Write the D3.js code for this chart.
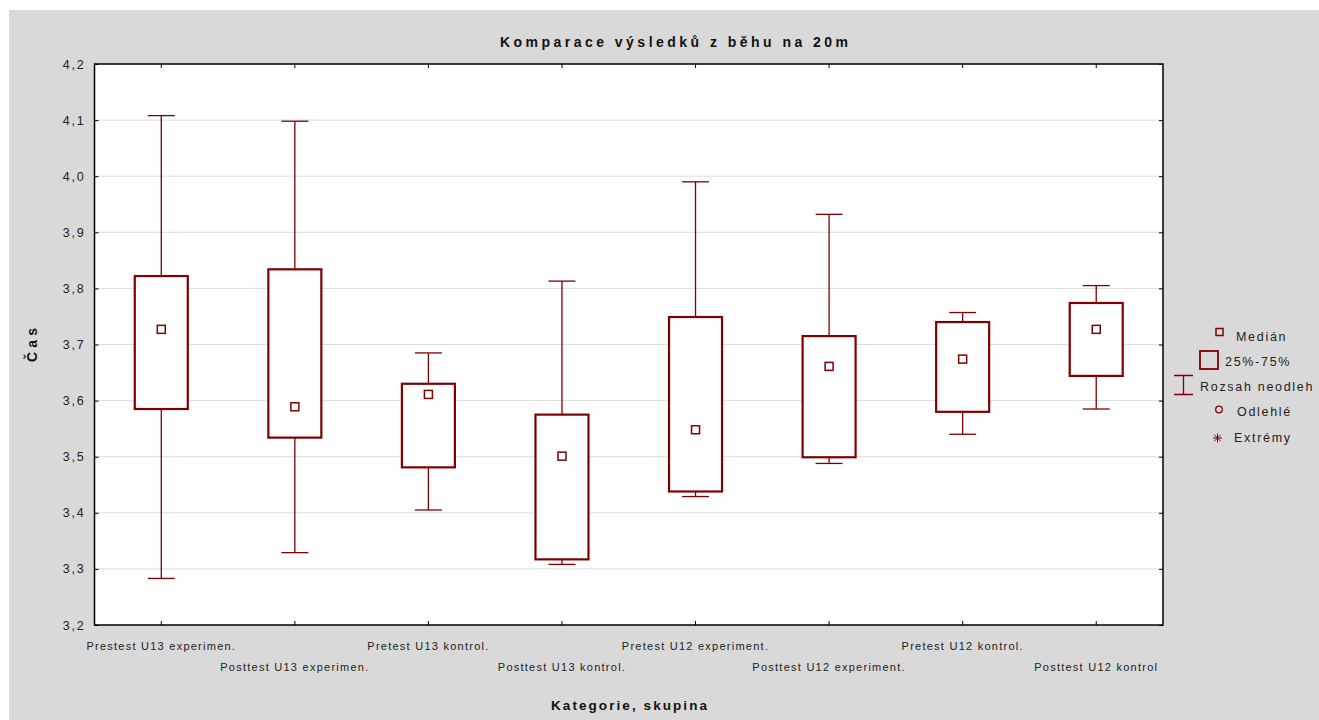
<!DOCTYPE html>
<html>
<head>
<meta charset="utf-8">
<script src="https://cdn.jsdelivr.net/npm/d3@7"></script>
<style>
  html, body { margin: 0; padding: 0; background: #ffffff; }
  svg { display: block; font-family: "Liberation Sans", Arial, sans-serif; }
</style>
</head>
<body>
<svg id="chart" width="1319" height="720"></svg>
<script>
// Box plot data: 20 m sprint times per group
const categories = [
  "Prestest U13 experimen.",
  "Posttest U13 experimen.",
  "Pretest U13 kontrol.",
  "Posttest U13 kontrol.",
  "Pretest U12 experiment.",
  "Posttest U12 experiment.",
  "Pretest U12 kontrol.",
  "Posttest U12 kontrol"
];
const whiskerLow  = [3.283, 3.329, 3.405, 3.308, 3.429, 3.488, 3.540, 3.585];
const q1          = [3.585, 3.534, 3.481, 3.317, 3.438, 3.499, 3.580, 3.644];
const medians     = [3.727, 3.589, 3.611, 3.501, 3.548, 3.661, 3.674, 3.727];
const q3          = [3.822, 3.834, 3.630, 3.575, 3.749, 3.715, 3.740, 3.774];
const whiskerHigh = [4.108, 4.098, 3.685, 3.813, 3.990, 3.932, 3.757, 3.805];
const yTicks = [3.2, 3.3, 3.4, 3.5, 3.6, 3.7, 3.8, 3.9, 4.0, 4.1, 4.2];
const legendLabels = ["Medián", "25%-75%", "Rozsah neodleh", "Odlehlé", "Extrémy"];

const RED = "#800000";
const svg = d3.select("#chart");

// grey panel
svg.append("rect").attr("x", 9).attr("y", 10).attr("width", 1310).attr("height", 710)
  .attr("fill", "#d9d9d9");

const plotLeft = 94.5, plotRight = 1163, plotTop = 64, plotBottom = 625;
const x = d3.scaleBand().domain(categories).range([plotLeft, plotRight]);
const y = d3.scaleLinear().domain([3.2, 4.2]).range([plotBottom, plotTop]);
const fmt = d => d.toFixed(1).replace(".", ",");

// plot area
svg.append("rect").attr("x", plotLeft).attr("y", plotTop)
  .attr("width", plotRight - plotLeft).attr("height", plotBottom - plotTop)
  .attr("fill", "#ffffff");

// horizontal grid
svg.append("g").selectAll("line").data(yTicks.slice(1, -1)).join("line")
  .attr("x1", plotLeft).attr("x2", plotRight)
  .attr("y1", d => y(d)).attr("y2", d => y(d))
  .attr("stroke", "#dcdcdc").attr("stroke-width", 1);

// axes with inward ticks
const axisStyle = g => {
  g.select(".domain").remove();
  g.selectAll(".tick line").attr("stroke", "#000").attr("stroke-width", 1);
};
svg.append("g").attr("transform", `translate(${plotLeft},0)`)
  .call(d3.axisLeft(y).tickValues(yTicks).tickFormat(fmt).tickSizeInner(-4).tickSizeOuter(0).tickPadding(9))
  .call(axisStyle)
  .call(g => g.selectAll("text").attr("font-size", 12.5).attr("fill", "#222")
    .attr("font-family", "Liberation Sans, Arial, sans-serif").attr("letter-spacing", 1.8));
svg.append("g").attr("transform", `translate(${plotRight},0)`)
  .call(d3.axisRight(y).tickValues(yTicks).tickFormat("").tickSizeInner(-4).tickSizeOuter(0))
  .call(axisStyle);
svg.append("g").attr("transform", `translate(0,${plotTop})`)
  .call(d3.axisTop(x).tickFormat("").tickSizeInner(-4).tickSizeOuter(0))
  .call(axisStyle);
svg.append("g").attr("transform", `translate(0,${plotBottom})`)
  .call(d3.axisBottom(x).tickSizeInner(-4).tickSizeOuter(0))
  .call(axisStyle)
  .call(g => g.selectAll("text")
    .attr("y", (d, i) => i % 2 ? 38 : 17)
    .attr("font-size", 11).attr("fill", "#222").attr("letter-spacing", 1.25)
    .attr("font-family", "Liberation Sans, Arial, sans-serif"));

// frame
svg.append("rect").attr("x", plotLeft).attr("y", plotTop)
  .attr("width", plotRight - plotLeft).attr("height", plotBottom - plotTop)
  .attr("fill", "none").attr("stroke", "#000").attr("stroke-width", 1.5);

// boxes
const bw = 53, cap = 27;
const boxes = svg.append("g").selectAll("g").data(categories).join("g")
  .attr("transform", d => `translate(${x(d) + x.bandwidth() / 2},0)`);
boxes.append("line")
  .attr("y1", (d, i) => y(whiskerHigh[i])).attr("y2", (d, i) => y(q3[i]))
  .attr("stroke", RED).attr("stroke-width", 1.3);
boxes.append("line")
  .attr("y1", (d, i) => y(q1[i])).attr("y2", (d, i) => y(whiskerLow[i]))
  .attr("stroke", RED).attr("stroke-width", 1.3);
boxes.append("line").attr("x1", -cap / 2).attr("x2", cap / 2)
  .attr("y1", (d, i) => y(whiskerHigh[i])).attr("y2", (d, i) => y(whiskerHigh[i]))
  .attr("stroke", RED).attr("stroke-width", 1.3);
boxes.append("line").attr("x1", -cap / 2).attr("x2", cap / 2)
  .attr("y1", (d, i) => y(whiskerLow[i])).attr("y2", (d, i) => y(whiskerLow[i]))
  .attr("stroke", RED).attr("stroke-width", 1.3);
boxes.append("rect").attr("x", -bw / 2).attr("width", bw)
  .attr("y", (d, i) => y(q3[i])).attr("height", (d, i) => y(q1[i]) - y(q3[i]))
  .attr("fill", "#fff").attr("stroke", RED).attr("stroke-width", 2.2);
boxes.append("rect").attr("x", -4).attr("width", 8).attr("height", 8)
  .attr("y", (d, i) => y(medians[i]) - 4)
  .attr("fill", "#fff").attr("stroke", RED).attr("stroke-width", 1.5);

// titles
svg.append("text").attr("x", 674).attr("y", 47).attr("text-anchor", "middle")
  .attr("font-size", 14).attr("font-weight", "bold").attr("fill", "#111")
  .attr("textLength", 348).attr("lengthAdjust", "spacing")
  .text("Komparace výsledků z běhu na 20m");
svg.append("text").attr("x", 629).attr("y", 710).attr("text-anchor", "middle")
  .attr("font-size", 13.5).attr("font-weight", "bold").attr("fill", "#111")
  .attr("textLength", 156).attr("lengthAdjust", "spacing")
  .text("Kategorie, skupina");
svg.append("text").attr("transform", "translate(37,345) rotate(-90)").attr("text-anchor", "middle")
  .attr("font-size", 14).attr("font-weight", "bold").attr("fill", "#111")
  .attr("textLength", 34).attr("lengthAdjust", "spacing")
  .text("Čas");

// legend
const lg = svg.append("g").attr("font-size", 12.5).attr("fill", "#222").attr("letter-spacing", 1.7);
lg.append("rect").attr("x", 1216).attr("y", 328.5).attr("width", 7).attr("height", 7)
  .attr("fill", "none").attr("stroke", RED).attr("stroke-width", 1.5);
lg.append("rect").attr("x", 1200).attr("y", 351).attr("width", 18).attr("height", 18)
  .attr("fill", "none").attr("stroke", RED).attr("stroke-width", 1.8);
lg.append("path").attr("d", "M1174,375.5H1193M1183.5,375.5V394.5M1174,394.5H1193")
  .attr("fill", "none").attr("stroke", RED).attr("stroke-width", 1.3);
lg.append("circle").attr("cx", 1219).attr("cy", 409.5).attr("r", 3.3)
  .attr("fill", "none").attr("stroke", RED).attr("stroke-width", 1.3);
lg.append("path").attr("d", "M1213,438H1222M1217.5,433.5V442.5M1214.3,434.8L1220.7,441.2M1220.7,434.8L1214.3,441.2")
  .attr("fill", "none").attr("stroke", RED).attr("stroke-width", 1);
const legendPos = [[1236, 337], [1225, 362], [1200, 387], [1237, 412], [1234, 438]];
lg.selectAll("text.lab").data(legendLabels).join("text").attr("class", "lab")
  .attr("x", (d, i) => legendPos[i][0]).attr("y", (d, i) => legendPos[i][1])
  .attr("dy", "0.35em").text(d => d);
</script>
</body>
</html>
